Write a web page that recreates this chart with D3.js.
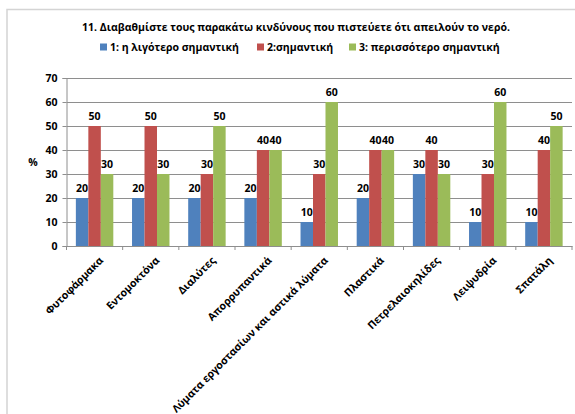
<!DOCTYPE html>
<html><head><meta charset="utf-8">
<script src="https://cdn.jsdelivr.net/npm/d3@7"></script>
<style>
html,body{margin:0;padding:0;background:#fff;}
svg{display:block;}
text{font-family:"Open Sans","Noto Sans",sans-serif;font-weight:bold;fill:#000;}
</style></head>
<body>
<svg id="c" width="575" height="414"></svg>
<script>
const title = "11.  Διαβαθμίστε τους παρακάτω κινδύνους που πιστεύετε ότι απειλούν το νερό.";
const categories = ["Φυτοφάρμακα","Εντομοκτόνα","Διαλύτες","Απορρυπαντικά","Λύματα εργοστασίων και αστικά λύματα","Πλαστικά","Πετρελαιοκηλίδες","Λειψυδρία","Σπατάλη"];
const seriesNames = ["1: η λιγότερο σημαντική","2:σημαντική","3: περισσότερο σημαντική"];
const seriesColors = ["#4F81BD","#C0504D","#9BBB59"];
const s1 = [20,20,20,20,10,20,30,10,10];
const s2 = [50,50,30,40,30,40,40,30,40];
const s3 = [30,30,50,40,60,40,30,60,50];
const yTicks = [0,10,20,30,40,50,60,70];
const yLabel = "%";

const series = [s1,s2,s3];
const svg = d3.select("#c");

// outer frame
svg.append("rect").attr("x",7).attr("y",9.5).attr("width",620).attr("height",460)
  .attr("fill","#fff").attr("stroke","#D4D4D4").attr("stroke-width",1.5);

const L = 66.5, R = 572, T = 78, B = 246;
const x = d3.scaleBand().domain(categories).range([L,R]).paddingInner(0).paddingOuter(0);
const xs = d3.scaleBand().domain([0,1,2]).range([0,x.bandwidth()]).paddingInner(0).paddingOuter(0.75);
const y = d3.scaleLinear().domain([0,70]).range([B,T]);

// gridlines
svg.append("g").selectAll("line").data(yTicks.filter(d=>d>0)).join("line")
  .attr("x1",L).attr("x2",R).attr("y1",d=>Math.round(y(d))+0.5).attr("y2",d=>Math.round(y(d))+0.5)
  .attr("stroke","#8E8E8E").attr("stroke-width",1);

// y axis
const yAxis = d3.axisLeft(y).tickValues(yTicks).tickSize(4).tickPadding(5);
const gy = svg.append("g").attr("transform",`translate(${L},0)`).call(yAxis);
gy.select(".domain").attr("stroke","#8E8E8E");
gy.selectAll(".tick line").attr("stroke","#8E8E8E");
gy.selectAll(".tick text").style("font-size","10.5px").attr("fill","#000");
gy.attr("font-family",null).attr("font-size",null);

// bars
const groups = svg.append("g").selectAll("g").data(categories).join("g")
  .attr("transform",d=>`translate(${x(d)},0)`);
groups.selectAll("rect").data((d,i)=>series.map((s,k)=>({k,v:s[i]}))).join("rect")
  .attr("x",d=>xs(d.k)).attr("width",xs.bandwidth())
  .attr("y",d=>y(d.v)).attr("height",d=>y(0)-y(d.v))
  .attr("fill",d=>seriesColors[d.k]);
groups.selectAll("text.lbl").data((d,i)=>series.map((s,k)=>({k,v:s[i]}))).join("text")
  .attr("class","lbl")
  .attr("x",d=>xs(d.k)+xs.bandwidth()/2).attr("y",d=>y(d.v)-6)
  .attr("text-anchor","middle").style("font-size","10.5px").text(d=>d.v);

// x axis
const xAxis = d3.axisBottom(x).tickSize(0).tickFormat("");
const gx = svg.append("g").attr("transform",`translate(0,${B})`).call(xAxis);
gx.select(".domain").attr("stroke","#8E8E8E");
gx.append("g").selectAll("line").data(d3.range(categories.length+1)).join("line")
  .attr("x1",i=>L+i*x.step()).attr("x2",i=>L+i*x.step()).attr("y1",0).attr("y2",4)
  .attr("stroke","#8E8E8E");
svg.append("g").selectAll("text").data(categories).join("text")
  .attr("transform",d=>`translate(${x(d)+x.bandwidth()/2+4},${B+10}) rotate(-45)`)
  .attr("text-anchor","end").attr("dy","0.7em").style("font-size","10.5px").text(d=>d);

// y label
svg.append("text").attr("x",33).attr("y",162).attr("text-anchor","middle").attr("dy","0.35em")
  .style("font-size","10.5px").text(yLabel);

// title
svg.append("text").attr("x",296).attr("y",27).attr("dy","0.35em").attr("text-anchor","middle")
  .style("font-size","10.5px").text(title);

// legend
const legX = [100,257,349];
const lg = svg.append("g").selectAll("g").data(seriesNames).join("g")
  .attr("transform",(d,i)=>`translate(${legX[i]},47)`);
lg.append("rect").attr("x",0).attr("y",-3.5).attr("width",7).attr("height",7).attr("fill",(d,i)=>seriesColors[i]);
lg.append("text").attr("x",10).attr("y",0).attr("dy","0.35em").style("font-size","10.5px").text(d=>d);
</script>
</body></html>
